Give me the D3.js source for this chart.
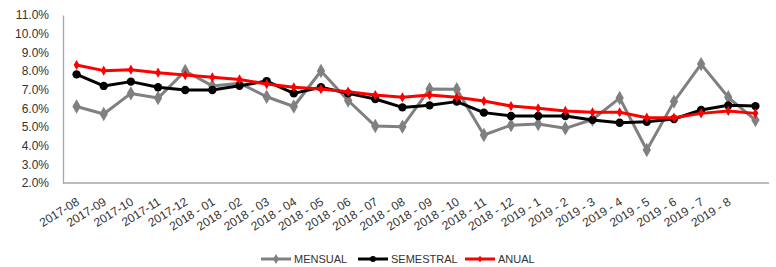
<!DOCTYPE html>
<html>
<head>
<meta charset="utf-8">
<script src="https://cdn.jsdelivr.net/npm/d3@7"></script>
<style>
  body { margin: 0; background: #fff; }
  svg { display: block; font-family: "Liberation Sans", Arial, sans-serif; }
</style>
</head>
<body>
<svg id="chart" width="776" height="267"></svg>
<script>
// categories (last one has no label in the original)
const months = ["2017-08","2017-09","2017-10","2017-11","2017-12",
  "2018 - 01","2018 - 02","2018 - 03","2018 - 04","2018 - 05","2018 - 06",
  "2018 - 07","2018 - 08","2018 - 09","2018 - 10","2018 - 11","2018 - 12",
  "2019 - 1","2019 - 2","2019 - 3","2019 - 4","2019 - 5","2019 - 6","2019 - 7","2019 - 8",""];

const mensual   = [6.1,5.7,6.8,6.55,8.0,7.2,7.35,6.62,6.1,8.0,6.42,5.05,5.02,7.03,7.02,4.57,5.1,5.16,4.93,5.4,6.55,3.77,6.36,8.37,6.59,5.37];
const semestral = [7.82,7.2,7.43,7.13,6.98,6.98,7.21,7.46,6.8,7.13,6.8,6.5,6.05,6.16,6.36,5.77,5.59,5.59,5.59,5.38,5.23,5.28,5.43,5.91,6.16,6.12];
const anual     = [8.32,8.02,8.07,7.91,7.78,7.66,7.55,7.3,7.13,7.03,6.89,6.71,6.59,6.71,6.59,6.39,6.12,6.0,5.86,5.79,5.79,5.5,5.5,5.73,5.86,5.73];

const yTicks = [2,3,4,5,6,7,8,9,10,11];

const svg = d3.select("#chart");
const plotLeft = 63, plotRight = 769, plotTop = 15, plotBottom = 183;

const x = d3.scalePoint().domain(d3.range(months.length)).range([plotLeft, plotRight]).padding(0.5);
const y = d3.scaleLinear().domain([2, 11]).range([plotBottom, plotTop]);

// axes
const yAxis = svg.append("g").attr("transform", `translate(${plotLeft},0)`)
  .call(d3.axisLeft(y).tickValues(yTicks).tickSize(0).tickPadding(14)
    .tickFormat(d => d.toFixed(1) + "%"));
yAxis.select(".domain").attr("stroke", "#a6a6a6").attr("stroke-width", 1.3);
yAxis.selectAll("text").attr("font-size", 12).attr("fill", "#333");

const xAxis = svg.append("g").attr("transform", `translate(0,${plotBottom})`)
  .call(d3.axisBottom(x).tickSize(0).tickFormat(i => months[i]));
xAxis.select(".domain").attr("stroke", "#a6a6a6").attr("stroke-width", 1.3)
  .attr("d", `M${plotLeft},0H${plotRight}`);
xAxis.selectAll("text")
  .attr("font-size", 12).attr("fill", "#333")
  .attr("text-anchor", "end").attr("dy", 0).attr("y", 0)
  .attr("transform", "translate(3,21) rotate(-32)");

const series = [
  { name: "MENSUAL", values: mensual, color: "#808080", marker: "diamond", size: 60 },
  { name: "SEMESTRAL", values: semestral, color: "#000000", marker: "circle", size: 55 },
  { name: "ANUAL", values: anual, color: "#ff0000", marker: "diamond", size: 30 }
];

const symbolFor = s => d3.symbol()
  .type(s.marker === "circle" ? d3.symbolCircle : d3.symbolDiamond)
  .size(s.size);

const line = d3.line().x((d, i) => x(i)).y(d => y(d));

series.forEach(s => {
  const g = svg.append("g");
  g.append("path").datum(s.values)
    .attr("d", line)
    .attr("fill", "none")
    .attr("stroke", s.color)
    .attr("stroke-width", 3)
    .attr("stroke-linejoin", "round");
  g.selectAll("path.m").data(s.values).enter().append("path")
    .attr("class", "m")
    .attr("d", symbolFor(s)())
    .attr("transform", (d, i) => `translate(${x(i)},${y(d)})`)
    .attr("fill", s.color);
});

// legend
const legendX = [261, 358, 465];
const legendY = 259;
series.forEach((s, i) => {
  const g = svg.append("g").attr("transform", `translate(${legendX[i]},${legendY})`);
  g.append("line").attr("x1", 0).attr("x2", 30)
    .attr("stroke", s.color).attr("stroke-width", 3);
  g.append("path").attr("d", symbolFor({ marker: s.marker, size: s.size * 0.5 })())
    .attr("transform", "translate(15,0)").attr("fill", s.color);
  g.append("text").attr("x", 33).attr("dy", "0.35em")
    .attr("font-size", 11).attr("fill", "#333").text(s.name);
});
</script>
</body>
</html>
